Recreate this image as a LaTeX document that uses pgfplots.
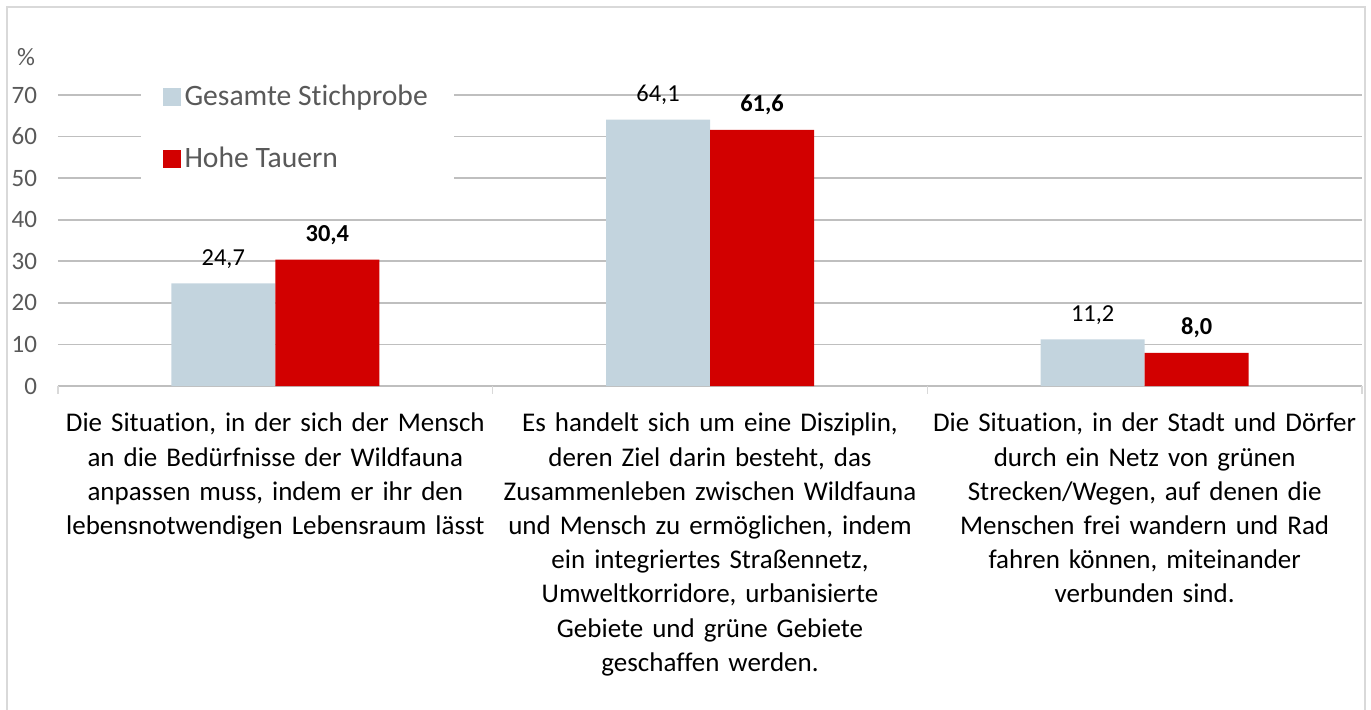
\documentclass[border=0pt]{standalone}
\usepackage{pgfplots}
\pgfplotsset{compat=1.18}
\usepackage{fontspec}
\setmainfont{Carlito}[Ligatures=NoCommon]
\definecolor{cgray}{RGB}{195,212,222}
\definecolor{cred}{RGB}{210,0,0}
\definecolor{grid}{RGB}{217,217,217}
\definecolor{txt}{RGB}{89,89,89}
\begin{document}
\begin{tikzpicture}
\begin{axis}[
  scale only axis,
  width=652pt, height=145.5pt,
  at={(0,0)}, anchor=south west,
  xmin=-0.5, xmax=2.5,
  ymin=0, ymax=70,
  ytick={0,10,...,70},
  ymajorgrids, xmajorgrids=false,
  grid style={grid, line width=0.8pt},
  axis line style={draw=none},
  major tick length=0pt,
  tick style={draw=none},
  xtick={0,1,2},
  xticklabels={
    {Die Situation, in der sich der Mensch\\an die Bedürfnisse der Wildfauna\\anpassen muss, indem er ihr den\\lebensnotwendigen Lebensraum lässt},
    {Es handelt sich um eine Disziplin,\\deren Ziel darin besteht, das\\Zusammenleben zwischen Wildfauna\\und Mensch zu ermöglichen, indem\\ein integriertes Straßennetz,\\Umweltkorridore, urbanisierte\\Gebiete und grüne Gebiete\\geschaffen werden.},
    {Die Situation, in der Stadt und Dörfer\\durch ein Netz von grünen\\Strecken/Wegen, auf denen die\\Menschen frei wandern und Rad\\fahren können, miteinander\\verbunden sind.}},
  xticklabel style={text width=225pt, align=center, anchor=north, yshift=-10pt,
    font=\fontsize{13.5}{17.1}\selectfont, text=black},
  yticklabel style={font=\fontsize{12.5}{14}\selectfont, text=txt, anchor=east, xshift=-7pt},
  /pgf/number format/assume math mode=true,
  ybar=0pt,
  bar width=52pt,
  clip=false,
  legend style={at={(rel axis cs:0.063,1.09)}, anchor=north west, draw=none, fill=white,
    font=\fontsize{14.8}{16}\selectfont, text=txt, row sep=15pt,
    inner xsep=11pt, inner ysep=6pt, legend cell align=left},
  legend image code/.code={\fill[#1] (0.5pt,-4.5pt) rectangle (9.5pt,4.5pt);},
  nodes near coords={\pgfmathprintnumber[use comma,fixed,fixed zerofill,precision=1,assume math mode=true]{\pgfplotspointmeta}},
  nodes near coords style={anchor=south, yshift=4pt, text=black},
]
\addplot[fill=cgray, draw=none, nodes near coords style={font=\fontsize{12.2}{14}\selectfont}]
  coordinates {(0,24.7) (1,64.1) (2,11.2)};
\addlegendentry{Gesamte Stichprobe}
\addplot[fill=cred, draw=none, nodes near coords style={font=\bfseries\fontsize{12.2}{14}\selectfont}]
  coordinates {(0,30.4) (1,61.6) (2,8.0)};
\addlegendentry{Hohe Tauern}
\draw[grid, line width=0.8pt] (axis cs:-0.5,0) -- ([yshift=-4pt]axis cs:-0.5,0);
\draw[grid, line width=0.8pt] (axis cs:0.5,0) -- ([yshift=-4pt]axis cs:0.5,0);
\draw[grid, line width=0.8pt] (axis cs:1.5,0) -- ([yshift=-4pt]axis cs:1.5,0);
\draw[grid, line width=0.8pt] (axis cs:2.5,0) -- ([yshift=-4pt]axis cs:2.5,0);
\end{axis}
\node[font=\fontsize{12.5}{14}\selectfont, text=txt] at (-16pt,164.5pt) {\%};
\draw[grid, line width=0.8pt] (-25.5pt,-170pt) rectangle (653.5pt,189.5pt);
\pgfresetboundingbox
\path[use as bounding box] (-29pt,-161.5pt) rectangle (656.5pt,193pt);
\end{tikzpicture}
\end{document}
